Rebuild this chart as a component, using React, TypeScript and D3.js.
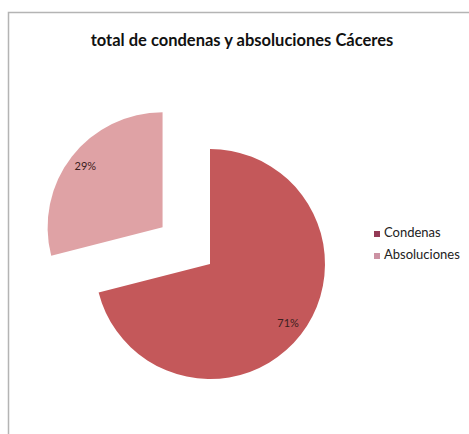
import React, { useEffect, useRef } from 'react';
import * as d3 from 'd3';

const categories = ['Condenas', 'Absoluciones'];
const values = [71, 29];
const labels = ['71%', '29%'];
const sliceColors = ['#C4585A', '#DFA2A5'];
const legendColors = ['#933A55', '#CC92A3'];

const App: React.FC = () => {
    const svgRef = useRef<SVGSVGElement>(null);

    useEffect(() => {
        if (!svgRef.current) return;
        const svg = d3.select(svgRef.current);
        svg.selectAll('*').remove();

        const width = 469;
        const height = 434;
        const font = 'Lato, "Open Sans", sans-serif';

        // chart frame
        svg.append('rect')
            .attr('x', 8.5)
            .attr('y', 12.5)
            .attr('width', width)
            .attr('height', height)
            .attr('fill', '#fff')
            .attr('stroke', '#b4b4b4')
            .attr('stroke-width', 1.5);

        svg.append('text')
            .attr('x', 242)
            .attr('y', 46)
            .attr('text-anchor', 'middle')
            .attr('font-family', font)
            .attr('font-weight', 'bold')
            .attr('font-size', '16.5px')
            .attr('fill', '#111')
            .text('total de condenas y absoluciones Cáceres');

        const cx = 210;
        const cy = 264;
        const r = 115;
        const explode = [0, 60];

        const pie = d3.pie<number>().sort(null).value(d => d);
        const arcs = pie(values);
        const arc = d3.arc<d3.PieArcDatum<number>>().innerRadius(0).outerRadius(r);
        const labelRadius = [r * 0.86, r * 0.85];

        const g = svg.append('g').attr('transform', `translate(${cx},${cy})`);

        arcs.forEach((a, i) => {
            const mid = (a.startAngle + a.endAngle) / 2;
            const dx = Math.sin(mid) * explode[i];
            const dy = -Math.cos(mid) * explode[i];
            const sg = g.append('g').attr('transform', `translate(${dx},${dy})`);
            sg.append('path')
                .attr('d', arc(a) as string)
                .attr('fill', sliceColors[i]);
            const lp = d3.arc<d3.PieArcDatum<number>>()
                .innerRadius(labelRadius[i]).outerRadius(labelRadius[i]).centroid(a);
            sg.append('text')
                .attr('x', lp[0])
                .attr('y', lp[1])
                .attr('text-anchor', 'middle')
                .attr('dominant-baseline', 'middle')
                .attr('font-family', font)
                .attr('font-size', '11px')
                .attr('fill', '#3a2020')
                .text(labels[i]);
        });

        // legend
        const legend = svg.append('g').attr('transform', 'translate(374,234)');
        categories.forEach((c, i) => {
            const row = legend.append('g').attr('transform', `translate(0,${i * 22})`);
            row.append('rect')
                .attr('x', 0)
                .attr('y', -3)
                .attr('width', 6)
                .attr('height', 6)
                .attr('fill', legendColors[i]);
            row.append('text')
                .attr('x', 10)
                .attr('y', 0)
                .attr('dominant-baseline', 'middle')
                .attr('font-family', font)
                .attr('font-size', '13px')
                .attr('fill', '#222')
                .text(c);
        });
    }, []);

    return (
        <svg ref={svgRef} width={469} height={434}
            style={{ position: 'absolute', left: 0, top: 0 }} />
    );
};

export default App;
